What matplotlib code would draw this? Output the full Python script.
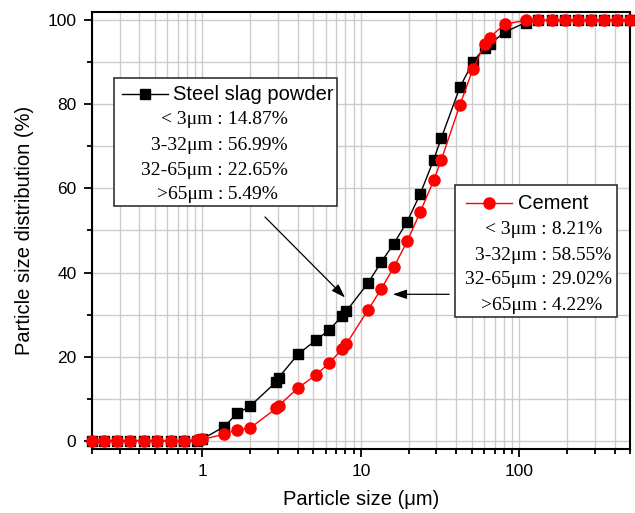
import numpy as np
import matplotlib.pyplot as plt
from matplotlib.patches import Rectangle
from matplotlib.lines import Line2D
from matplotlib.ticker import LogLocator, MultipleLocator, NullFormatter

# particle size classes (um)
size = [0.2, 0.24, 0.29, 0.35, 0.43, 0.52, 0.63, 0.77, 0.92, 1.0,
        1.37, 1.66, 2.0, 2.93, 3.03, 4.0, 5.2, 6.3, 7.6, 8.1,
        11.1, 13.4, 16.1, 19.6, 23.7, 28.8, 32.2, 42.2, 51, 60.4,
        65, 80.7, 110, 132, 161, 195, 234, 285, 342, 415, 501]

# cumulative distribution (%)
slag = [0, 0, 0, 0, 0, 0, 0, 0, 0, 0.4,
        3.3, 6.5, 8.2, 14.0, 15.0, 20.5, 23.9, 26.3, 29.6, 30.8,
        37.5, 42.4, 46.8, 52.1, 58.7, 66.8, 72.0, 84.1, 90.1, 93.5,
        94.3, 97.2, 99.5, 100, 100, 100, 100, 100, 100, 100, 100]
cement = [0, 0, 0, 0, 0, 0, 0, 0, 0.2, 0.3,
          1.5, 2.6, 3.0, 7.7, 8.3, 12.5, 15.6, 18.4, 21.7, 23.0,
          31.1, 36.0, 41.2, 47.4, 54.4, 61.9, 66.8, 79.9, 88.4, 94.3,
          95.9, 99.1, 100, 100, 100, 100, 100, 100, 100, 100, 100]

slag_stats = [("< 3μm :", " 14.87%"), ("3-32μm :", " 56.99%"),
              ("32-65μm :", " 22.65%"), (">65μm :", " 5.49%")]
cement_stats = [("< 3μm :", " 8.21%"), ("3-32μm :", " 58.55%"),
                ("32-65μm :", " 29.02%"), (">65μm :", " 4.22%")]

W, H = 635, 513
fig = plt.figure(figsize=(W / 100, H / 100), dpi=100)
ax = fig.add_axes([91.7 / W, 1 - 449 / H, (630 - 91.7) / W, (449 - 12) / H])

sans = 'Liberation Sans'
serif = 'Liberation Serif'

ax.plot(size, slag, color='black', lw=1, marker='s', ms=6.5, clip_on=False, zorder=3)
ax.plot(size, cement, color='red', lw=1, marker='o', ms=8, clip_on=False, zorder=4)

ax.set_xscale('log')
ax.set_xlim(0.2, 500)
ax.set_ylim(-2, 102)
ax.xaxis.set_major_locator(LogLocator(base=10))
ax.xaxis.set_minor_locator(LogLocator(base=10, subs=np.arange(2, 10)))
ax.xaxis.set_minor_formatter(NullFormatter())
ax.set_xticks([1, 10, 100])
ax.set_xticklabels(['1', '10', '100'])
ax.yaxis.set_major_locator(MultipleLocator(20))
ax.yaxis.set_minor_locator(MultipleLocator(10))
ax.grid(True, which='both', color='#cccccc', lw=1, zorder=0)
ax.set_axisbelow(True)
for sp in ax.spines.values():
    sp.set_linewidth(1.5)
ax.tick_params(which='major', direction='out', length=6, width=1.3, labelsize=12.5, pad=5)
ax.tick_params(which='minor', direction='out', length=3.5, width=1.3)
for lab in ax.get_xticklabels() + ax.get_yticklabels():
    lab.set_fontfamily(sans)
ax.set_xlabel('Particle size (μm)', fontsize=14.5, family=sans, labelpad=8)
ax.set_ylabel('Particle size distribution (%)', fontsize=14.5, family=sans, labelpad=10)


def px(x, y):
    return (x / W, 1 - y / H)


def legend_box(x0, y0, x1, y1, color, marker, ms, label, hx, tx, ty, colon_x, rows_y, stats):
    fig.patches.append(Rectangle(px(x0, y1), (x1 - x0) / W, (y1 - y0) / H,
                                 transform=fig.transFigure, fc='white', ec='#333333',
                                 lw=1.2, zorder=5))
    fig.lines.append(Line2D([hx[0] / W, hx[1] / W], [1 - ty / H] * 2,
                            transform=fig.transFigure, color=color, lw=1, zorder=6))
    fig.lines.append(Line2D([(hx[0] + hx[1]) / 2 / W], [1 - ty / H],
                            transform=fig.transFigure, color=color, marker=marker,
                            ms=ms, zorder=6))
    fig.text(*px(tx, ty), label, family=sans, fontsize=14.5, va='center', ha='left', zorder=6)
    for (left, right), ry in zip(stats, rows_y):
        fig.text(*px(colon_x, ry), left, family=serif, fontsize=14, va='center',
                 ha='right', zorder=6)
        fig.text(*px(colon_x, ry), right, family=serif, fontsize=14, va='center',
                 ha='left', zorder=6)


legend_box(114, 77.7, 337, 206, 'black', 's', 6.5, 'Steel slag powder',
           (122, 168), 173, 94, 223, [120, 145.7, 170.7, 195], slag_stats)
legend_box(455, 185, 617, 317, 'red', 'o', 8, 'Cement',
           (466, 512), 518, 203.3, 547, [230, 256, 279.3, 305], cement_stats)

ax.annotate('', xy=px(347, 299.5), xycoords='figure fraction',
            xytext=px(263, 215), textcoords='figure fraction',
            arrowprops=dict(arrowstyle='-|>,head_length=0.6,head_width=0.2',
                            color='black', lw=0.9, mutation_scale=14))
ax.annotate('', xy=px(390, 294.3), xycoords='figure fraction',
            xytext=px(452, 294.3), textcoords='figure fraction',
            arrowprops=dict(arrowstyle='-|>,head_length=0.6,head_width=0.2',
                            color='black', lw=0.9, mutation_scale=14))

fig.savefig('out.png', dpi=100)
